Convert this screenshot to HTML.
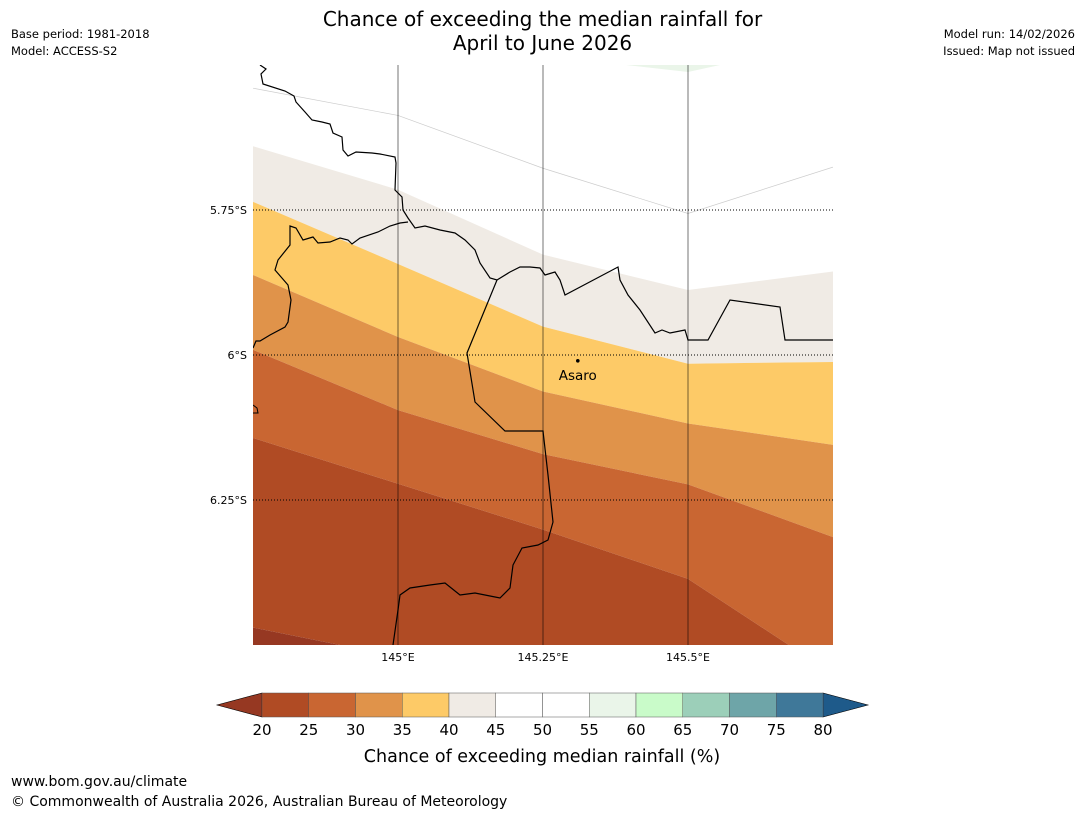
<!DOCTYPE html>
<html><head><meta charset="utf-8"><style>
body{margin:0;background:#fff;font-family:"DejaVu Sans","Liberation Sans",sans-serif;}
#wrap{position:relative;width:1085px;height:816px;overflow:hidden;background:#fff}
.t{position:absolute;white-space:nowrap;color:#000}
</style></head><body>
<div id="wrap">
<div class="t" style="left:0;width:1085px;top:7px;text-align:center;font-size:20px;line-height:24px">Chance of exceeding the median rainfall for<br>April to June 2026</div>
<div class="t" style="left:11px;top:26px;font-size:11.5px;line-height:17px">Base period: 1981-2018<br>Model: ACCESS-S2</div>
<div class="t" style="right:10px;top:26px;font-size:11.5px;line-height:17px;text-align:right">Model run: 14/02/2026<br>Issued: Map not issued</div>
<div class="t" style="left:11px;top:774px;font-size:14px">www.bom.gov.au/climate</div>
<div class="t" style="left:11px;top:794px;font-size:14px">© Commonwealth of Australia 2026, Australian Bureau of Meteorology</div>
<svg id="svg" width="1085" height="816" style="position:absolute;left:0;top:0" font-family="DejaVu Sans, Liberation Sans, sans-serif"></svg>
</div>
<script>
// Map extent and data
const lonMin=144.75, lonMax=145.75, latTop=-5.5, latBot=-6.5;
const lonTicks=[145,145.25,145.5];
const lonLabels=["145°E","145.25°E","145.5°E"];
const latTicks=[-5.75,-6,-6.25];
const latLabels=["5.75°S","6°S","6.25°S"];
// contour band upper boundaries, lat at these longitudes
const bandLons=[144.75,145,145.25,145.5,145.75];
const b40=[-5.64,-5.715,-5.827,-5.888,-5.856];
const b35=[-5.736,-5.843,-5.951,-6.015,-6.012];
const b30=[-5.862,-5.969,-6.063,-6.118,-6.155];
const b25=[-5.991,-6.095,-6.171,-6.223,-6.314];
const b20=[-6.143,-6.222,-6.301,-6.386,-6.55];
const bandLo=[-6.47,-6.52,-6.6,-6.6,-6.6];
const greyLine=[-5.54,-5.587,-5.678,-5.756,-5.676];
const towns=[{name:"Asaro",lon:145.31,lat:-6.01}];
// colorbar
const cbLevels=[20,25,30,35,40,45,50,55,60,65,70,75,80];
const cbColors=["#b04b24","#c96632","#e0934a","#fdca67","#f0ebe5","#ffffff","#ffffff","#eaf5e9","#c9fbc9","#9ccfb9","#6ea5a8","#3f7899"];
const extLow="#963822", extHigh="#1e5a8a";

const X0=253,X1=833,Y0=65,Y1=645;
const xs=l=>X0+(l-lonMin)/(lonMax-lonMin)*(X1-X0);
const ys=l=>Y0+(latTop-l)/(latTop-latBot)*(Y1-Y0);
const svg=document.getElementById('svg');
const NS="http://www.w3.org/2000/svg";
function mk(tag,attrs,parent){const e=document.createElementNS(NS,tag);for(const k in attrs)e.setAttribute(k,attrs[k]);(parent||svg).appendChild(e);return e;}
const clip=mk('clipPath',{id:'mc'});
mk('rect',{x:X0,y:Y0,width:X1-X0,height:Y1-Y0},clip);
const mapG=mk('g',{'clip-path':'url(#mc)'});


function lineStr(arr){return bandLons.map((l,i)=>xs(l)+","+ys(arr[i])).join(" ");}
function band(top,bot,col,name){
  const pts=bandLons.map((l,i)=>xs(l)+","+ys(top[i]));
  const pb=bandLons.slice().reverse().map((l,i)=>xs(l)+","+ys(bot[bot.length-1-i]));
  const e=mk('polygon',{points:pts.concat(pb).join(" "),fill:col},mapG);
  
  
}
band(b40,b35,"#f0ebe5","band-40-45");
band(b35,b30,"#fdca67","band-35-40");
band(b30,b25,"#e0934a","band-30-35");
band(b25,b20,"#c96632","band-25-30");
band(b20,bandLo,"#b04b24","band-20-25");
band(bandLo,bandLons.map(()=>latBot-0.2),"#963822","band-below-20");
let e=mk('polyline',{points:lineStr(greyLine),fill:"none",stroke:"#ccc","stroke-width":0.7},mapG);

e=mk('polygon',{points:"626,65 720,65 688,72",fill:"#eaf5e9"},mapG);

e=mk('polyline',{points:"260,65 266,69 261,74 263,84 285,91 294,96 296,102 305,112 312,120 322,122 330,124 333,133 342,137 343,150 348,156 356,152 372,153 380,154 395,157 396,163 395,190 402,197 403,210 408,218 415,228 425,226 440,230 455,233 465,240 475,250 480,263 490,278 497,280 510,272 520,267 530,267 540,268 545,275 555,272 560,280 565,295 618,267 620,280 628,295 640,310 655,333 662,330 670,333 685,330 688,340 708,340 730,300 780,307 785,340 833,340",fill:"none",stroke:"#000","stroke-width":1.2},mapG);

e=mk('polyline',{points:"408,222 400,223 390,226 378,232 360,238 352,244 348,240 340,238 330,242 318,243 313,237 303,240 296,228 290,226 290,245 278,260 275,270 288,285 291,300 288,322 285,327 270,335 260,341 256,341 253,348",fill:"none",stroke:"#000","stroke-width":1.2},mapG);

e=mk('polyline',{points:"497,280 467,353 475,402 505,431 543,431 548,475 553,522 548,540 538,545 522,548 513,565 510,588 500,598 490,596 475,593 460,595 445,583 430,585 410,588 400,595 398,610 393,645",fill:"none",stroke:"#000","stroke-width":1.2},mapG);

mk('polyline',{points:"253,405 257,408 258,413 253,413",fill:"none",stroke:"#000","stroke-width":1},mapG);
lonTicks.forEach((l,i)=>{
  const g=mk('line',{x1:xs(l),x2:xs(l),y1:Y0,y2:Y1,stroke:"#000","stroke-opacity":0.45,"stroke-width":1.2});
  
  const t=mk('text',{x:xs(l),y:661,"font-size":11,"text-anchor":"middle"});t.textContent=lonLabels[i];
  
});
latTicks.forEach((l,i)=>{
  const g=mk('line',{x1:X0,x2:X1,y1:ys(l),y2:ys(l),stroke:"#000","stroke-width":0.9,"stroke-dasharray":"1,2"});
  
  const t=mk('text',{x:247,y:ys(l)+4,"font-size":11,"text-anchor":"end"});t.textContent=latLabels[i];
  
});
towns.forEach(tw=>{
  const c=mk('circle',{cx:xs(tw.lon),cy:ys(tw.lat),r:1.8,fill:"#000"});
  
  const t=mk('text',{x:xs(tw.lon),y:ys(tw.lat)+19,"font-size":13.5,"text-anchor":"middle"});t.textContent=tw.name;
  
});
const CB0=262,CB1=823,CBy=693,CBh=24;
const cx=v=>CB0+(v-cbLevels[0])/(cbLevels[cbLevels.length-1]-cbLevels[0])*(CB1-CB0);
e=mk('polygon',{points:`${CB0},${CBy} ${CB0},${CBy+CBh} 217,${CBy+CBh/2}`,fill:extLow,stroke:"#000","stroke-width":0.6});

e=mk('polygon',{points:`${CB1},${CBy} ${CB1},${CBy+CBh} 868,${CBy+CBh/2}`,fill:extHigh,stroke:"#000","stroke-width":0.6});

cbColors.forEach((c,i)=>{
  const r=mk('rect',{x:cx(cbLevels[i]),y:CBy,width:cx(cbLevels[i+1])-cx(cbLevels[i]),height:CBh,fill:c,stroke:"#555","stroke-width":0.5});
  
});
cbLevels.forEach(v=>{
  const t=mk('text',{x:cx(v),y:735,"font-size":15,"text-anchor":"middle"});t.textContent=v;
  
});
e=mk('text',{x:542,y:762,"font-size":17.5,"text-anchor":"middle"});e.textContent="Chance of exceeding median rainfall (%)";

</script>
</body></html>
